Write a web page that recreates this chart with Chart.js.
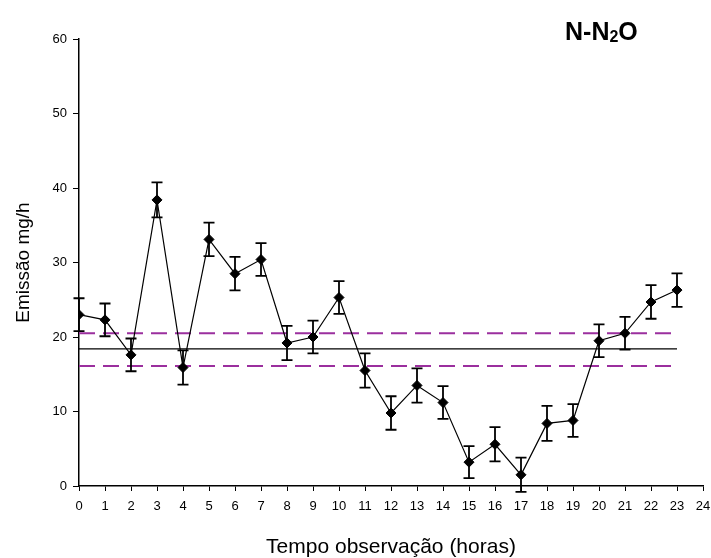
<!DOCTYPE html>
<html>
<head>
<meta charset="utf-8">
<title>N-N2O</title>
<script src="https://cdn.jsdelivr.net/npm/chart.js@4"></script>
<style>
  html, body { margin: 0; padding: 0; background: #fff; }
  #wrap { width: 711px; height: 558px; }
</style>
</head>
<body>
<div id="wrap"><canvas id="chart" width="711" height="558"></canvas></div>
<script>
// Hourly N-N2O emission (mg/h) with standard error
const hours = [0, 1, 2, 3, 4, 5, 6, 7, 8, 9, 10, 11, 12, 13, 14, 15, 16, 17, 18, 19, 20, 21, 22, 23];
const emission = [23.0, 22.3, 17.6, 38.4, 15.9, 33.1, 28.5, 30.4, 19.2, 20.0, 25.3, 15.5,
                  9.8, 13.5, 11.2, 3.2, 5.6, 1.5, 8.4, 8.8, 19.5, 20.5, 24.7, 26.3];
const errors = [2.2, 2.2, 2.2, 2.35, 2.3, 2.25, 2.25, 2.2, 2.3, 2.2, 2.2, 2.3,
                2.25, 2.3, 2.2, 2.15, 2.3, 2.3, 2.35, 2.2, 2.2, 2.2, 2.25, 2.25];

// Daily mean and its confidence band
const meanValue = 18.4;
const bandUpper = 20.5;
const bandLower = 16.1;

// Axis ranges and tick spacing
const xRange = [0, 24];
const xStep = 1;
const yRange = [0, 60];
const yStep = 10;

const FONT = "'Liberation Sans', Arial, Helvetica, sans-serif";

const points = hours.map((h, i) => ({ x: h, y: emission[i] }));
const span = v => [{ x: hours[0], y: v }, { x: hours[hours.length - 1], y: v }];

// Vertical error bars with caps for the emission series
const errorBars = {
  id: 'errorBars',
  afterDatasetsDraw(chart) {
    const { ctx, scales: { x, y } } = chart;
    const cap = 5.5;
    ctx.save();
    ctx.strokeStyle = '#000';
    ctx.lineWidth = 1.8;
    hours.forEach((h, i) => {
      const px = x.getPixelForValue(h);
      const top = y.getPixelForValue(emission[i] + errors[i]);
      const bot = y.getPixelForValue(emission[i] - errors[i]);
      ctx.beginPath();
      ctx.moveTo(px, top); ctx.lineTo(px, bot);
      ctx.moveTo(px - cap, top); ctx.lineTo(px + cap, top);
      ctx.moveTo(px - cap, bot); ctx.lineTo(px + cap, bot);
      ctx.stroke();
    });
    ctx.restore();
  }
};

// Chart heading with a subscript 2
const heading = {
  id: 'heading',
  afterDraw(chart) {
    const ctx = chart.ctx;
    const x0 = 565, base = 40;
    ctx.save();
    ctx.fillStyle = '#000';
    ctx.textBaseline = 'alphabetic';
    ctx.textAlign = 'left';
    ctx.font = 'bold 25px ' + FONT;
    ctx.fillText('N-N', x0, base);
    let x1 = x0 + ctx.measureText('N-N').width;
    ctx.font = 'bold 16px ' + FONT;
    ctx.fillText('2', x1, base + 2);
    x1 += ctx.measureText('2').width;
    ctx.font = 'bold 25px ' + FONT;
    ctx.fillText('O', x1, base);
    ctx.restore();
  }
};

new Chart(document.getElementById('chart'), {
  type: 'line',
  data: {
    datasets: [
      {
        label: 'N-N2O',
        data: points,
        borderColor: '#000',
        backgroundColor: '#000',
        borderWidth: 1.2,
        pointStyle: 'rectRot',
        pointRadius: 5,
        pointBorderWidth: 1,
        pointBackgroundColor: '#000',
        pointBorderColor: '#000',
        tension: 0,
        order: 1
      },
      {
        label: 'Média',
        data: span(meanValue),
        borderColor: '#000',
        borderWidth: 1.3,
        pointRadius: 0,
        order: 3
      },
      {
        label: 'Limite superior',
        data: span(bandUpper),
        borderColor: '#9b2f9e',
        borderWidth: 2,
        borderDash: [16, 8],
        pointRadius: 0,
        order: 2
      },
      {
        label: 'Limite inferior',
        data: span(bandLower),
        borderColor: '#9b2f9e',
        borderWidth: 2,
        borderDash: [16, 8],
        pointRadius: 0,
        order: 2
      }
    ]
  },
  options: {
    responsive: false,
    animation: false,
    devicePixelRatio: 1,
    layout: { padding: { top: 39, right: 8, left: 12, bottom: 0 } },
    plugins: {
      legend: { display: false },
      tooltip: { enabled: false },
      title: { display: false }
    },
    scales: {
      x: {
        type: 'linear',
        min: xRange[0],
        max: xRange[1],
        afterFit(s) { s.height = 72; s.paddingRight = 0; s.paddingLeft = 0; },
        ticks: {
          stepSize: xStep,
          autoSkip: false,
          maxRotation: 0,
          padding: 8,
          color: '#000',
          font: { family: FONT, size: 13 }
        },
        grid: { drawOnChartArea: false, drawTicks: true, tickLength: 5, color: '#000', lineWidth: 1 },
        border: { color: '#000', width: 1.5 },
        title: {
          display: true,
          text: 'Tempo observação (horas)',
          color: '#000',
          font: { family: FONT, size: 21, lineHeight: 1 },
          padding: { top: 12, bottom: 0 }
        }
      },
      y: {
        type: 'linear',
        min: yRange[0],
        max: yRange[1],
        afterFit(s) { s.width = 67; },
        ticks: {
          stepSize: yStep,
          padding: 6,
          color: '#000',
          font: { family: FONT, size: 13 }
        },
        grid: { drawOnChartArea: false, drawTicks: true, tickLength: 6, color: '#000', lineWidth: 1 },
        border: { color: '#000', width: 1.5 },
        title: {
          display: true,
          text: 'Emissão mg/h',
          color: '#000',
          font: { family: FONT, size: 19 },
          padding: { top: 0, bottom: 0 }
        }
      }
    }
  },
  plugins: [errorBars, heading]
});
</script>
</body>
</html>
